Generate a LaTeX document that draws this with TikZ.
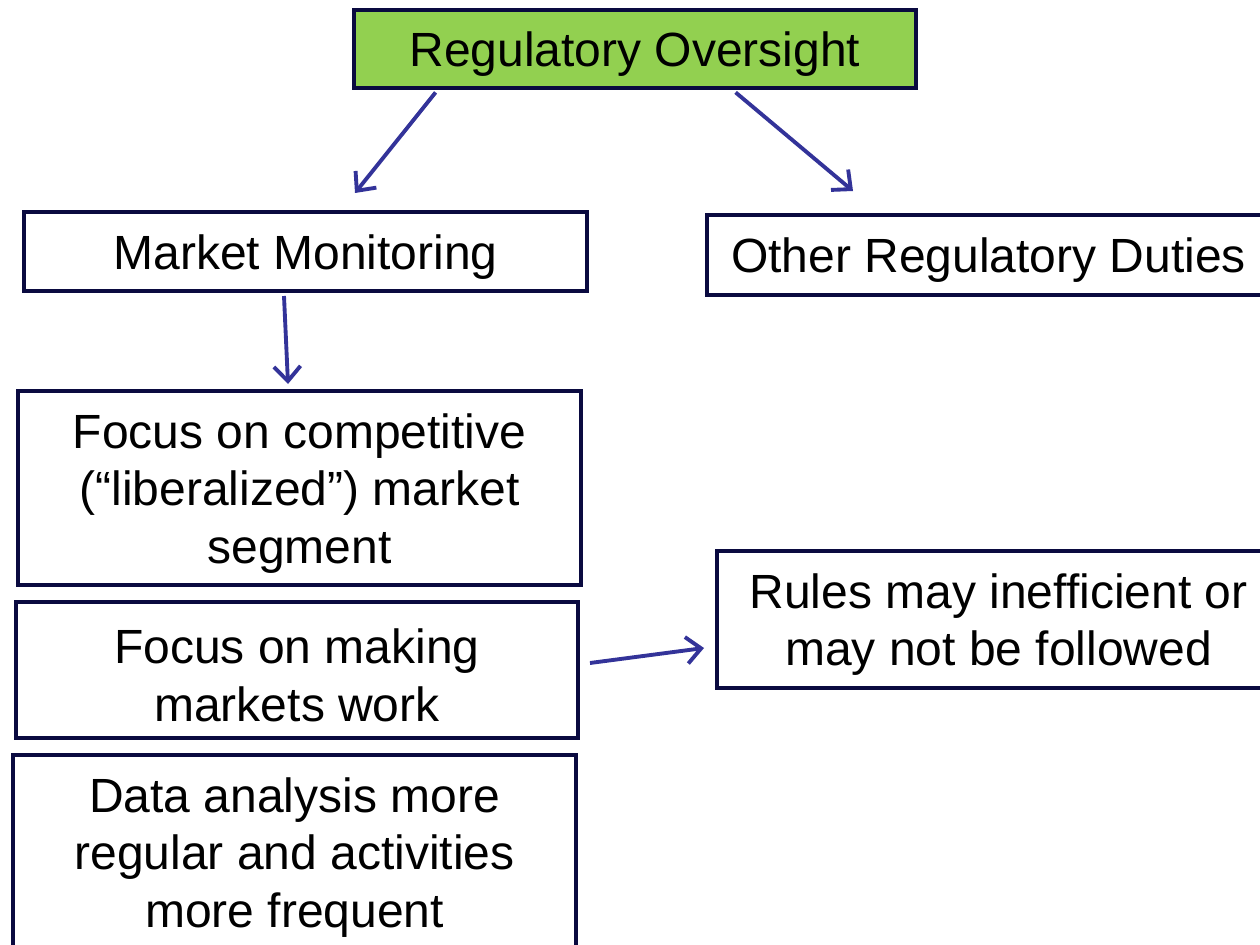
\documentclass[tikz,border=0pt]{standalone}
\usepackage{fontspec}
\setmainfont{Liberation Sans}
\usetikzlibrary{arrows.meta,calc}
\definecolor{navy}{RGB}{10,10,64}
\definecolor{boxgreen}{HTML}{92D050}
\definecolor{arrowblue}{HTML}{333399}
\newcommand{\topstrut}{\rule{0pt}{34pt}}
\begin{document}
\begin{tikzpicture}[x=0.75pt,y=-0.75pt,
  box/.style={draw=navy, line width=3pt, fill=white, align=center, inner sep=0pt,
    font=\fontsize{36}{43}\selectfont},
  conn/.style={draw=arrowblue, line width=2.9pt, -{Straight Barb[length=11pt,width=20pt,line width=2.9pt]}}]
\useasboundingbox (0,0) rectangle (1260,945);
\clip (0,0) rectangle (1260,945);
\fill[white] (0,0) rectangle (1260,945);

\node[box, fill=boxgreen, line width=3.6pt, minimum width=421.5pt, minimum height=58.5pt] (top) at (635,49) {\topstrut Regulatory Oversight};
\node[box, minimum width=422.25pt, minimum height=59.25pt] (mm) at (305.5,251.5) {\topstrut Market Monitoring};
\node[box, minimum width=422.25pt, minimum height=60pt] (other) at (988.5,255) {\topstrut Other Regulatory Duties};
\node[box, minimum width=422.25pt, minimum height=145.5pt] (comp) at (299.5,488) {\topstrut Focus on competitive\\(“liberalized”) market\\segment};
\node[box, minimum width=421.5pt, minimum height=102pt] (making) at (297,670) {\topstrut Focus on making\\markets work};
\node[box, minimum width=422.25pt, minimum height=145.5pt] (data) at (294.5,852) {\topstrut Data analysis more\\regular and activities\\more frequent};
\node[box, minimum width=422.25pt, minimum height=102.75pt] (rules) at (998.5,619.5) {\topstrut Rules may inefficient or\\may not be followed};

\coordinate (a1s) at ($(top.south west)+(84,2)$);
\coordinate (a1e) at ($(mm.north west)+(333,-17)$);
\coordinate (a2s) at ($(top.south west)+(384,2)$);
\coordinate (a2e) at ($(other.north west)+(148,-22)$);
\coordinate (a3s) at ($(mm.south west)+(262,3)$);
\coordinate (a3e) at ($(comp.north west)+(272,-5)$);
\coordinate (a4s) at ($(making.north east)+(10,63)$);
\coordinate (a4e) at ($(rules.north west)+(-11,99)$);

\draw[conn] (a1s) -- (a1e);
\draw[conn] (a2s) -- (a2e);
\draw[conn] (a3s) -- (a3e);
\draw[conn] (a4s) -- (a4e);
\end{tikzpicture}
\end{document}
